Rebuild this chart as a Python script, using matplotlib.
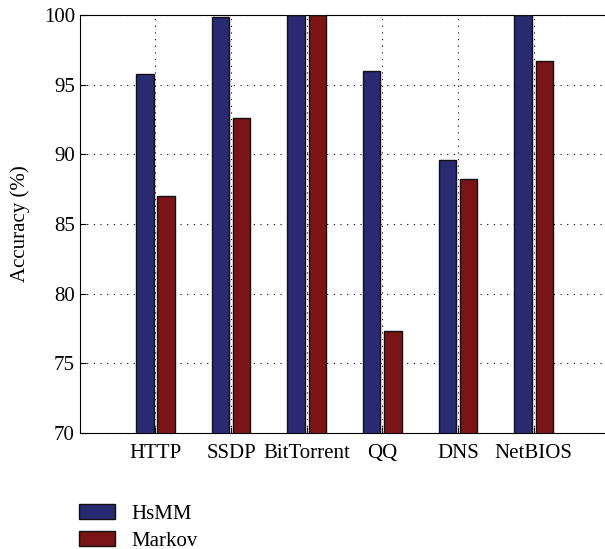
import matplotlib
matplotlib.use('Agg')
import matplotlib.pyplot as plt
import numpy as np

categories = ['HTTP', 'SSDP', 'BitTorrent', 'QQ', 'DNS', 'NetBIOS']
hsmm = [95.8, 99.85, 100.0, 96.0, 89.6, 100.0]
markov = [87.0, 92.6, 100.0, 77.3, 88.2, 96.7]

plt.rcParams['font.family'] = ['Liberation Serif', 'DejaVu Serif']

fig = plt.figure(figsize=(6.05, 5.49), dpi=100)
ax = fig.add_axes([0.132, 0.2113, 0.875, 0.7614])

x = np.arange(1, len(categories) + 1)
w = 0.23
b1 = ax.bar(x - 0.14, hsmm, w, color='#2a2a72', edgecolor='#111111', linewidth=1.0, label='HsMM', zorder=3)
b2 = ax.bar(x + 0.14, markov, w, color='#7b1416', edgecolor='#111111', linewidth=1.0, label='Markov', zorder=3)

ax.set_xlim(0, 7)
ax.set_ylim(70, 100)
ax.set_xticks(x)
ax.set_xticklabels(categories)
ax.set_yticks([70, 75, 80, 85, 90, 95, 100])
ax.tick_params(direction='in', labelsize=15, length=4)
ax.tick_params(axis='x', pad=8)
ax.set_ylabel('Accuracy (%)', fontsize=15, labelpad=10)
ax.grid(True, linestyle=(0, (1, 5)), color='black', linewidth=0.8, zorder=0)
ax.set_axisbelow(True)

fig.legend(handles=[b1, b2], loc='upper left', bbox_to_anchor=(0.10, 0.116),
           frameon=False, fontsize=15, handlelength=1.7, handleheight=0.7,
           labelspacing=0.35, handletextpad=0.8)

fig.savefig('out.png', dpi=100)
